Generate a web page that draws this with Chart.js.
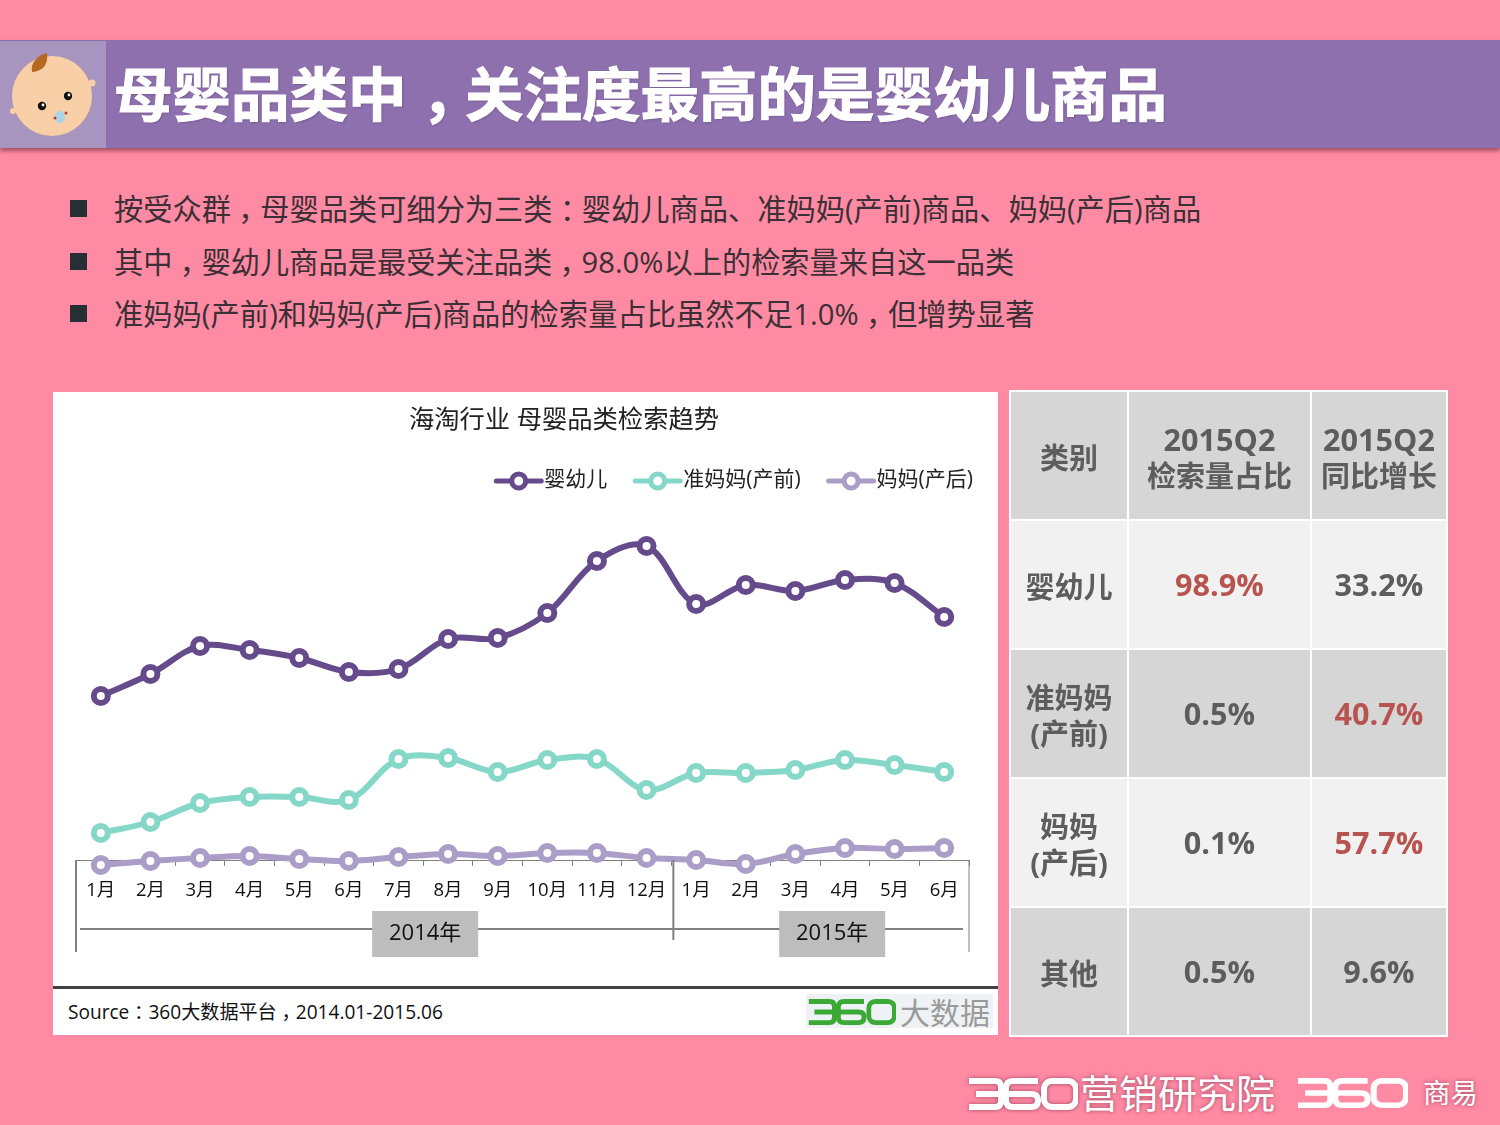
<!DOCTYPE html>
<html lang="zh">
<head>
<meta charset="utf-8">
<title>母婴品类检索趋势</title>
<script src="https://cdn.jsdelivr.net/npm/chart.js@4/dist/chart.umd.min.js"></script>
<style>
  * { box-sizing: border-box; }
  html, body { margin: 0; padding: 0; }
  body { position: relative; width: 1500px; height: 1125px; overflow: hidden; background: #ff8aa3; color: #333;
         font-family: "Open Sans", "Noto Sans CJK SC", sans-serif; }
  .abs { position: absolute; white-space: nowrap; }
  .p { position: relative; left: .25em; }
  #banner { left: 0; top: 40px; width: 1500px; height: 108px; background: #8d70ad; box-shadow: 0 3px 4px rgba(120,50,70,.65); }
  #iconbox { left: 0; top: 41px; width: 106px; height: 107px; background: #a794bf; }
  #headline { left: 114px; top: 37px; height: 107px; line-height: 107px; font-size: 58.5px; font-weight: 700; color: #fff; font-family: "Noto Sans CJK SC", sans-serif; -webkit-text-stroke: 1px #fff; text-shadow: 1px 1px 2px rgba(70,40,90,.4); }
  .bullet { left: 70px; width: 17px; height: 17px; background: #262f33; }
  .line { left: 114px; font-size: 29.2px; line-height: 40px; height: 40px; color: #3a3035; }
  #panel { left: 53px; top: 392px; width: 945px; height: 643px; background: #fff; }
  #chart { position: absolute; left: 0; top: 0; }
  #charttitle { left: 0; width: 1022px; top: 10px; text-align: center; font-size: 25.3px; line-height: 32px; color: #222; }
  #rule { left: 0; top: 594px; width: 945px; height: 3px; background: #404040; }
  #source { left: 15px; top: 606px; font-size: 19.1px; line-height: 28px; color: #111; }
  #logobg { left: 753px; top: 602px; width: 187px; height: 34px; background: #eef2f5; }
  #logotext { left: 847px; top: 598px; font-size: 30px; line-height: 42px; color: #9a9a9a; font-family: "Noto Sans CJK SC", sans-serif; }
  #stats { left: 1009px; top: 390px; width: 437px; height: 644px; border-collapse: collapse; table-layout: fixed; }
  #stats td { border: 2px solid #fff; text-align: center; vertical-align: middle; font-weight: 700; font-size: 29px; line-height: 36px; color: #5d5d5d; padding: 0; }
  #stats td.num { font-size: 30.6px; padding-bottom: 2px; }
  #stats span.num { font-size: 30.6px; }
  #stats td.name { padding-top: 4px; }
  #stats .hot { color: #b85450; }
  #stats tr:nth-child(odd) td { background: #d6d6d6; }
  #stats tr:nth-child(even) td { background: #f1f1f1; }
  .foot { color: #fff; font-family: "Noto Sans CJK SC", sans-serif; text-shadow: 0 0 4px rgba(120,40,70,.7); }
</style>
</head>
<body>
<svg width="0" height="0" style="position:absolute">
  <symbol id="n360" viewBox="0 0 110 32" preserveAspectRatio="none">
    <g fill="none" stroke="currentColor" stroke-width="6">
      <path d="M1 3H27Q33 3 33 9V23Q33 29 27 29H1M8 16H33"/>
      <path d="M70 3H45Q38 3 38 10V22Q38 29 45 29H63Q70 29 70 23V22Q70 16 63 16H38"/>
      <rect x="76" y="3" width="32" height="26" rx="8"/>
    </g>
  </symbol>
</svg>

<div class="abs" id="banner"></div>
<div class="abs" id="iconbox">
  <svg width="106" height="107" viewBox="0 0 106 107">
    <circle cx="52" cy="55" r="40" fill="#f8cfa6"/>
    <circle cx="92" cy="42" r="3.5" fill="#f8cfa6"/><circle cx="13" cy="70" r="3" fill="#f8cfa6"/>
    <path d="M32 31C30 22 38 14 47 12C48 20 46 30 32 31Z" fill="#b5691f"/>
    <circle cx="42" cy="65" r="4.2" fill="#111"/><circle cx="43" cy="64" r="1.4" fill="#fff"/>
    <circle cx="68" cy="55" r="4.2" fill="#111"/><circle cx="69" cy="54" r="1.4" fill="#fff"/>
    <ellipse cx="60" cy="76" rx="5" ry="6" fill="#a8d4ea"/>
    <circle cx="55" cy="77" r="1.5" fill="#c0392b"/><circle cx="66" cy="72" r="1.5" fill="#c0392b"/>
  </svg>
</div>
<div class="abs punct" id="headline">母婴品类中，关注度最高的是婴幼儿商品</div>

<div class="abs bullet" style="top:200px"></div>
<div class="abs bullet" style="top:253px"></div>
<div class="abs bullet" style="top:305px"></div>
<div class="abs line punct" style="top:189px;letter-spacing:.05px">按受众群，母婴品类可细分为三类：婴幼儿商品、准妈妈(产前)商品、妈妈(产后)商品</div>
<div class="abs line punct" style="top:242px;letter-spacing:.03px">其中，婴幼儿商品是最受关注品类，98.0%以上的检索量来自这一品类</div>
<div class="abs line punct" style="top:294px;letter-spacing:.1px">准妈妈(产前)和妈妈(产后)商品的检索量占比虽然不足1.0%，但增势显著</div>

<div class="abs" id="panel">
  <canvas id="chart" width="945" height="595"></canvas>
  <div class="abs" id="charttitle">海淘行业 母婴品类检索趋势</div>
  <div class="abs" id="rule"></div>
  <div class="abs punct" id="source">Source：360大数据平台，2014.01-2015.06</div>
  <div class="abs" id="logobg"></div>
  <svg class="abs" style="left:755px;top:607px;color:#3aa935" width="88" height="26"><use href="#n360"/></svg>
  <div class="abs" id="logotext">大数据</div>
</div>

<table class="abs" id="stats"><tbody id="statsbody"></tbody></table>

<svg class="abs" style="left:968px;top:1078px;color:#fff;filter:drop-shadow(0 0 2px rgba(120,40,70,.7))" width="110" height="32"><use href="#n360"/></svg>
<div class="abs foot" style="left:1080px;top:1063px;font-size:39px;line-height:56px">营销研究院</div>
<svg class="abs" style="left:1297px;top:1078px;color:#fff" width="111" height="30"><use href="#n360"/></svg>
<div class="abs foot" style="left:1423px;top:1071px;font-size:27.5px;line-height:40px">商易</div>

<script>
const MONTHS = ['1月', '2月', '3月', '4月', '5月', '6月', '7月', '8月', '9月', '10月', '11月', '12月', '1月', '2月', '3月', '4月', '5月', '6月'];
const YEARS = ['2014年', '2015年'];
const YEAR_SPANS = [12, 6];

const SERIES_NAMES = ['婴幼儿', '准妈妈(产前)', '妈妈(产后)'];
const INFANT = [174, 196, 224, 220, 212, 198, 201, 231, 232, 257, 309, 324, 266, 285, 279, 290, 287, 253];
const EXPECTANT = [37, 48, 67, 73, 73, 70, 111, 112, 98, 110, 111, 80, 97, 97, 100, 110, 105, 98];
const MOTHER = [5, 9, 12, 14, 11, 9, 13, 16, 14, 17, 17, 12, 10, 6, 16, 22, 21, 22];

const TABLE_HEAD = ['类别', '<span class="num">2015Q2</span><br>检索量占比', '<span class="num">2015Q2</span><br>同比增长'];
const TABLE_NAMES = ['婴幼儿', '准妈妈<br>(产前)', '妈妈<br>(产后)', '其他'];
const TABLE_SHARE = ['98.9%', '0.5%', '0.1%', '0.5%'];
const TABLE_GROWTH = ['33.2%', '40.7%', '57.7%', '9.6%'];
const HOT_SHARE = [0];
const HOT_GROWTH = [1, 2];

const COLORS = ['#654a8c', '#85d8c8', '#aa9dc7'];
const FONT = '"Open Sans", "Noto Sans CJK SC", sans-serif';

function buildTable() {
    const rows = [`<tr style="height:129px">${TABLE_HEAD.map(h => `<td class="name">${h}</td>`).join('')}</tr>`];
    TABLE_NAMES.forEach((name, i) => {
        rows.push(`<tr style="height:129px">
            <td class="name">${name}</td>
            <td class="num ${HOT_SHARE.includes(i) ? 'hot' : ''}">${TABLE_SHARE[i]}</td>
            <td class="num ${HOT_GROWTH.includes(i) ? 'hot' : ''}">${TABLE_GROWTH[i]}</td>
        </tr>`);
    });
    document.getElementById('statsbody').innerHTML = rows.join('');
    const stats = document.getElementById('stats');
    const cols = document.createElement('colgroup');
    cols.innerHTML = '<col style="width:118px"><col style="width:183px"><col style="width:136px">';
    stats.prepend(cols);
}

// the original sets full-width punctuation in the middle of its box
function centerPunctuation() {
    document.querySelectorAll('.punct').forEach(el => {
        el.innerHTML = el.innerHTML.replace(/[，：]/g, '<span class="p">$&</span>');
    });
}

// line + ring legend, right aligned like the original
const comboLegend = {
    id: 'comboLegend',
    afterDraw(chart) {
        const ctx = chart.ctx;
        ctx.save();
        ctx.font = '21px ' + FONT;
        ctx.textBaseline = 'middle';
        let right = 920;
        for (let i = chart.data.datasets.length - 1; i >= 0; i--) {
            const ds = chart.data.datasets[i];
            const w = ctx.measureText(ds.label).width;
            const textX = right - w;
            const lineEnd = textX - 3;
            const lineStart = lineEnd - 45;
            ctx.fillStyle = '#222';
            ctx.fillText(ds.label, textX, 88);
            ctx.strokeStyle = ds.borderColor;
            ctx.lineWidth = 5;
            ctx.lineCap = 'round';
            ctx.beginPath();
            ctx.moveTo(lineStart, 89);
            ctx.lineTo(lineEnd, 89);
            ctx.stroke();
            ctx.beginPath();
            ctx.arc((lineStart + lineEnd) / 2, 89, 7, 0, Math.PI * 2);
            ctx.fillStyle = '#fff';
            ctx.fill();
            ctx.stroke();
            right = lineStart - 28;
        }
        ctx.restore();
    },
};

// second level of the category axis: year brackets under the months
const yearBrackets = {
    id: 'yearBrackets',
    afterDraw(chart) {
        const ctx = chart.ctx;
        const x = chart.scales.x;
        const top = chart.chartArea.bottom;
        const step = x.getPixelForValue(1) - x.getPixelForValue(0);
        const axisLeft = x.getPixelForValue(0) - step / 2;
        const axisRight = x.getPixelForValue(MONTHS.length - 1) + step / 2;
        const labelShift = [51.5, 12];
        ctx.save();
        ctx.strokeStyle = '#808080';
        ctx.lineWidth = 2;
        ctx.beginPath();
        ctx.moveTo(axisLeft + 4, top + 69);
        ctx.lineTo(axisRight - 6, top + 69);
        ctx.stroke();

        let start = 0;
        YEARS.forEach((year, i) => {
            const left = x.getPixelForValue(start) - step / 2;
            const mid = left + YEAR_SPANS[i] * step / 2 + labelShift[i];
            ctx.fillStyle = '#bdbdbd';
            ctx.fillRect(mid - 53, top + 51, 106, 46);
            ctx.fillStyle = '#111';
            ctx.font = '22px ' + FONT;
            ctx.textAlign = 'center';
            ctx.textBaseline = 'middle';
            ctx.fillText(year, mid, top + 74);
            start += YEAR_SPANS[i];
        });

        const edges = [
            [axisLeft, 92, 2],
            [x.getPixelForValue(YEAR_SPANS[0]) - step / 2 + 2, 80, 2],
            [axisRight, 92, 1],
        ];
        edges.forEach(([px, len, lw]) => {
            ctx.lineWidth = lw;
            ctx.beginPath();
            ctx.moveTo(px, top);
            ctx.lineTo(px, top + len);
            ctx.stroke();
        });
        ctx.restore();
    },
};

function makeDataset(label, data, color) {
    return {
        label,
        data,
        borderColor: color,
        backgroundColor: '#fff',
        borderWidth: 6,
        pointBackgroundColor: '#fff',
        pointBorderColor: color,
        pointBorderWidth: 6,
        pointRadius: 7,
        tension: 0.35,
        clip: false,
    };
}

function initChart() {
    new Chart(document.getElementById('chart'), {
        type: 'line',
        data: {
            labels: MONTHS,
            datasets: [
                makeDataset(SERIES_NAMES[0], INFANT, COLORS[0]),
                makeDataset(SERIES_NAMES[1], EXPECTANT, COLORS[1]),
                makeDataset(SERIES_NAMES[2], MOTHER, COLORS[2]),
            ],
        },
        options: {
            responsive: false,
            animation: false,
            layout: { padding: { left: 23, right: 29, top: 108, bottom: 0 } },
            plugins: { legend: { display: false }, title: { display: false }, tooltip: { enabled: false } },
            scales: {
                x: {
                    offset: true,
                    afterFit: scale => { scale.height = 127; },
                    grid: { offset: true, drawOnChartArea: false, color: '#808080', tickLength: 6, tickColor: '#808080' },
                    border: { color: '#808080', width: 1 },
                    ticks: { color: '#111', font: { size: 18.5, family: FONT }, padding: 14, autoSkip: false, maxRotation: 0 },
                },
                y: { display: false, min: 10, max: 370 },
            },
        },
        plugins: [yearBrackets, comboLegend],
    });
}

document.addEventListener('DOMContentLoaded', () => {
    centerPunctuation();
    buildTable();
    initChart();
});
</script>
</body>
</html>
